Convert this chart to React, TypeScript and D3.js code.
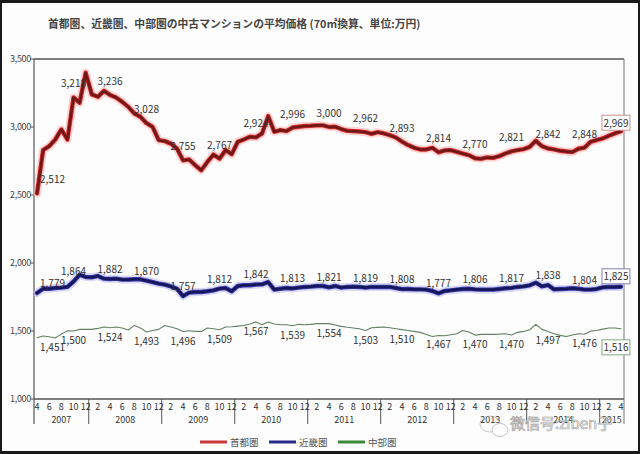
import React from "react";
import * as d3 from "d3";

// ---- data ----
const startYear = 2007;
const startMonth = 4;
const monthCount = 97; // 2007-04 .. 2015-04

const shutoken = [
  2512, 2830, 2859, 2908, 2982, 2908, 3218, 3178, 3399, 3240, 3222, 3266,
  3236, 3217, 3185, 3148, 3099, 3075, 3028, 3001, 2903, 2896, 2878, 2842,
  2755, 2761, 2719, 2682, 2743, 2797, 2767, 2830, 2800, 2891, 2908, 2928,
  2924, 2953, 3080, 2965, 2977, 2970, 2996, 3002, 3007, 3009, 3012, 3012,
  3000, 3002, 2985, 2972, 2970, 2967, 2962, 2950, 2962, 2953, 2940, 2923,
  2893, 2867, 2847, 2835, 2835, 2847, 2814, 2828, 2830, 2818, 2805, 2793,
  2770, 2766, 2776, 2773, 2786, 2805, 2821, 2830, 2837, 2854, 2899, 2859,
  2842, 2835, 2825, 2820, 2815, 2840, 2848, 2891, 2904, 2916, 2935, 2953,
  2969,
];

const kinki = [
  1779, 1811, 1811, 1816, 1819, 1824, 1864, 1914, 1897, 1895, 1905, 1885,
  1882, 1885, 1878, 1878, 1880, 1880, 1870, 1860, 1848, 1841, 1828, 1811,
  1757, 1782, 1787, 1787, 1792, 1799, 1812, 1816, 1792, 1831, 1836, 1836,
  1842, 1843, 1860, 1804, 1811, 1816, 1813, 1819, 1824, 1826, 1831, 1831,
  1821, 1831, 1819, 1824, 1826, 1824, 1819, 1824, 1824, 1824, 1824, 1816,
  1808, 1809, 1806, 1806, 1804, 1794, 1777, 1794, 1799, 1804, 1809, 1811,
  1806, 1804, 1804, 1804, 1809, 1814, 1817, 1824, 1828, 1836, 1855, 1828,
  1838, 1806, 1809, 1811, 1814, 1811, 1804, 1804, 1809, 1821, 1824, 1824,
  1825,
];

const chubu = [
  1451, 1463, 1458, 1448, 1477, 1502, 1500, 1512, 1512, 1512, 1519, 1529,
  1524, 1529, 1522, 1507, 1541, 1522, 1493, 1504, 1512, 1541, 1529, 1517,
  1496, 1502, 1497, 1497, 1522, 1517, 1509, 1529, 1531, 1536, 1541, 1551,
  1567, 1546, 1566, 1551, 1546, 1546, 1539, 1549, 1546, 1549, 1554, 1554,
  1554, 1544, 1534, 1527, 1522, 1517, 1503, 1524, 1527, 1529, 1524, 1517,
  1510, 1504, 1497, 1490, 1475, 1460, 1467, 1465, 1472, 1480, 1504, 1492,
  1470, 1475, 1475, 1475, 1477, 1480, 1470, 1490, 1497, 1509, 1549, 1512,
  1497, 1480, 1468, 1460, 1470, 1480, 1476, 1499, 1504, 1514, 1522, 1522,
  1516,
];

const yTicks = [1000, 1500, 2000, 2500, 3000, 3500];
const seriesNames = ["首都圏", "近畿圏", "中部圏"];
const title = "首都圏、近畿圏、中部圏の中古マンションの平均価格 (70㎡換算、単位:万円)";
const watermark = "微信号:ziben子";

// month categories
const months = Array.from({ length: monthCount }, (_, i) => {
  const m0 = startMonth - 1 + i;
  return { idx: i, year: startYear + Math.floor(m0 / 12), month: (m0 % 12) + 1 };
});

const FONT = "'Noto Sans CJK JP', 'Noto Sans', sans-serif";
const fmt = d3.format(",");

export default function App() {
  const W = 640, H = 454;
  const left = 34, right = 624, top = 59, bottom = 399;
  const x = d3.scalePoint<number>().domain(months.map((m) => m.idx)).range([left, right]).padding(0.5);
  const step = x.step();
  const y = d3.scaleLinear().domain([1000, 3500]).range([bottom, top]);
  const line = d3.line<number>().x((_, i) => x(i) as number).y((v) => y(v));

  const series = [
    { name: seriesNames[0], data: shutoken, halo: "#ffb4b4", mid: "#d42a2a", core: "#6e1818", legend: "#c83a3a", box: "#c89090", dy: -10, boxDy: -8 },
    { name: seriesNames[1], data: kinki, halo: "#bcbcf0", mid: "#3838a8", core: "#16165a", legend: "#2a2a8c", box: "#8080b0", dy: -6, boxDy: -10 },
    { name: seriesNames[2], data: chubu, halo: "", mid: "", core: "#667f66", legend: "#3a8a3a", box: "#80a880", dy: 13, boxDy: 19 },
  ];

  // year dividers after December
  const dividers = months.filter((m) => m.month === 12).map((m) => (x(m.idx) as number) + step / 2);
  const years = d3.groups(months, (m) => m.year).map(([yr, ms]) => {
    const a = Math.max(left, (x(ms[0].idx) as number) - step / 2);
    const b = Math.min(right, (x(ms[ms.length - 1].idx) as number) + step / 2);
    return { yr, cx: (a + b) / 2 };
  });

  return (
    <svg width={W} height={H} style={{ position: "absolute", left: 0, top: 0 }} fontFamily={FONT}>
      <rect x={0} y={0} width={W} height={H} fill="#1a1a1a" />
      <rect x={2} y={3} width={W - 4} height={H - 6} fill="#fdfdfd" />

      <text x={48} y={28} fontSize={10.8} fontWeight="bold" fill="#444">{title}</text>

      {/* frame */}
      <g stroke="#555" fill="none">
        <line x1={left} x2={right} y1={top} y2={top} strokeWidth={1.3} />
        <line x1={right} x2={right} y1={top} y2={424} strokeWidth={1} stroke="#777" />
        <line x1={left} x2={left} y1={top} y2={424} strokeWidth={1.2} />
        <line x1={left} x2={right} y1={bottom} y2={bottom} strokeWidth={1.3} />
        {dividers.map((d, i) => (
          <line key={i} x1={d} x2={d} y1={bottom} y2={424} strokeWidth={1} />
        ))}
      </g>

      {/* y axis */}
      {yTicks.map((t) => (
        <g key={t}>
          <line x1={30} x2={left} y1={y(t)} y2={y(t)} stroke="#555" />
          <text x={31} y={y(t) + 3} fontSize={9} fill="#444" textAnchor="end" letterSpacing={-0.3}>{fmt(t)}</text>
        </g>
      ))}

      {/* x axis labels */}
      {months.filter((m) => m.month % 2 === 0).map((m) => (
        <text key={m.idx} x={x(m.idx) as number} y={409.5} fontSize={9} fill="#333" textAnchor="middle">{m.month}</text>
      ))}
      {years.map((yy) => (
        <text key={yy.yr} x={yy.cx} y={423} fontSize={9} fill="#333" textAnchor="middle">{yy.yr}</text>
      ))}

      {/* lines */}
      {series.map((s) => (
        <g key={s.name} fill="none" strokeLinejoin="round" strokeLinecap="round">
          {s.halo && <path d={line(s.data) as string} stroke={s.halo} strokeWidth={8} opacity={0.55} />}
          {s.mid && <path d={line(s.data) as string} stroke={s.mid} strokeWidth={4.4} />}
          <path d={line(s.data) as string} stroke={s.core} strokeWidth={s.halo ? 2.6 : 1.1} />
        </g>
      ))}

      {/* data labels */}
      {series.map((s) => (
        <g key={s.name + "l"} fontSize={10} fill="#333">
          {s.data.map((v, i) => {
            if (i % 6 !== 0 || i === s.data.length - 1) return null;
            const px = x(i) as number;
            const first = i === 0;
            return (
              <text key={i} x={first ? px + 3 : px} y={y(v) + s.dy} textAnchor={first ? "start" : "middle"}>{fmt(v)}</text>
            );
          })}
        </g>
      ))}

      {/* end labels in boxes */}
      {series.map((s) => {
        const i = s.data.length - 1;
        const v = s.data[i];
        const cx = (x(i) as number) - 5;
        const cy = y(v) + s.boxDy;
        return (
          <g key={s.name + "b"}>
            <rect x={cx - 14} y={cy - 8} width={28} height={15} fill="#fff" stroke={s.box} strokeWidth={1} />
            <text x={cx} y={cy + 3.5} fontSize={10} fill="#333" textAnchor="middle">{fmt(v)}</text>
          </g>
        );
      })}

      {/* legend */}
      {series.map((s, k) => {
        const lx = 200 + k * 69;
        return (
          <g key={s.name + "lg"}>
            <line x1={lx} x2={lx + 27} y1={442} y2={442} stroke={s.legend} strokeWidth={3} />
            <text x={lx + 30} y={445.5} fontSize={9.5} fill="#555">{s.name}</text>
          </g>
        );
      })}

      {/* watermark */}
      <g opacity={0.85}>
        <ellipse cx={490} cy={424} rx={10} ry={8} fill="none" stroke="#aaa" strokeWidth={0.8} />
        <ellipse cx={500} cy={430} rx={8} ry={6.5} fill="#fdfdfd" stroke="#aaa" strokeWidth={0.8} />
        <text x={510} y={429} fontSize={15} fill="#fff" stroke="#999" strokeWidth={0.7}>{watermark}</text>
      </g>
    </svg>
  );
}
